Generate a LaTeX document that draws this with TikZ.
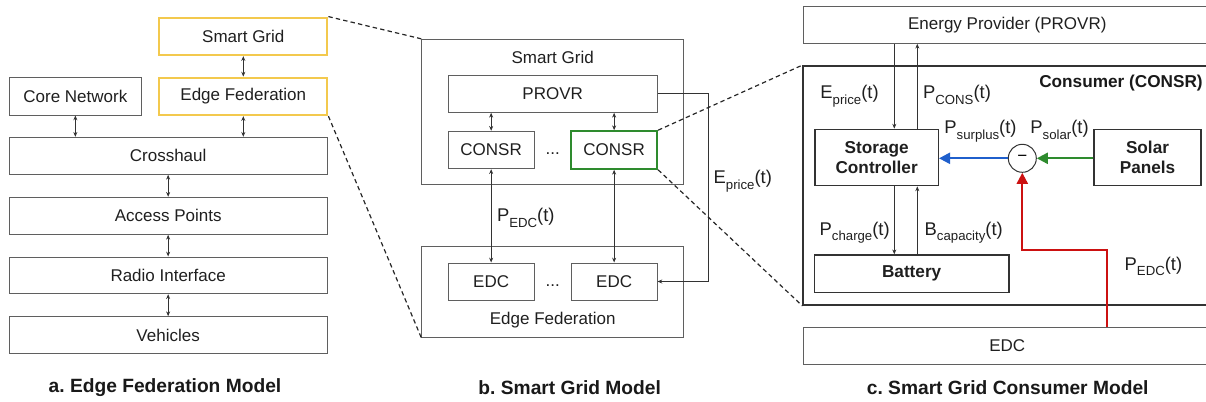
\documentclass[tikz,border=0pt]{standalone}
\usepackage{fontspec}
\setmainfont{Liberation Sans}
\frenchspacing
\usetikzlibrary{arrows.meta}
\definecolor{boxgray}{HTML}{5F5F5F}
\definecolor{ylw}{HTML}{F3C94E}
\definecolor{grn}{HTML}{2E8B2E}
\definecolor{blu}{HTML}{1F5FCC}
\definecolor{rd}{HTML}{CC1111}
\newcommand\sbs[1]{\raisebox{-0.6ex}{\fontsize{6.6}{7}\selectfont #1}}
% \rbox[style]{name}{x1}{y1}{x2}{y2}{text}
\newcommand\rbox[7][box]{\node[#1, minimum width={(#5-#3)*0.5pt}, minimum height={(#6-#4)*0.5pt}] (#2) at ({(#3+#5)/2},{(#4+#6)/2}) {#7};}
\tikzset{
  box/.style={draw=boxgray, line width=0.5pt, inner sep=0pt, font=\fontsize{8.5}{10}\selectfont, text=black!88},
  ybox/.style={box, draw=ylw, line width=1.1pt},
  gbox/.style={box, draw=grn, line width=1.1pt},
  bbox/.style={box, draw=black!80, line width=0.7pt, font=\bfseries\fontsize{8.6}{10}\selectfont, align=center},
  plain/.style={inner sep=0pt, font=\fontsize{8.5}{10}\selectfont, text=black!88},
  lab/.style={anchor=base west, inner sep=0pt, font=\fontsize{9.2}{10}\selectfont, text=black!88},
  ttl/.style={inner sep=0pt, font=\bfseries\fontsize{9.6}{11}\selectfont, text=black!90},
  sarr/.style={draw=black!80, line width=0.4pt, {Stealth[length=2.4pt,width=2pt]}-{Stealth[length=2.4pt,width=2pt]}},
  arr/.style={draw=black!80, line width=0.4pt, -{Stealth[length=2.4pt,width=2pt]}},
  dsh/.style={draw=black!85, line width=0.6pt, dash pattern=on 2.2pt off 1.6pt},
  flow/.style={line width=1.1pt, -{Triangle[length=5.5pt,width=5.5pt]}},
}
\begin{document}
\begin{tikzpicture}[x=0.5pt,y=-0.5pt]
\useasboundingbox (0,0) rectangle (1206,402);
\clip (0,0) rectangle (1206,402);
% ---------- a ----------
\rbox[ybox]{sg}{159.3}{17.7}{327.3}{55}{Smart Grid}
\rbox[ybox]{ef}{159.3}{77.7}{327.3}{115}{Edge Federation}
\rbox{cn}{9}{77.7}{141.7}{115}{Core Network}
\rbox{ch}{9}{137.3}{327.3}{174.3}{Crosshaul}
\rbox{ap}{9}{197.3}{327.3}{234.3}{Access Points}
\rbox{ri}{9}{257}{327.3}{293.7}{Radio Interface}
\rbox{ve}{9}{316.7}{327.3}{353.3}{Vehicles}
\draw[sarr] (sg.south) -- (ef.north);
\draw[sarr] (cn.south) -- (cn.south |- ch.north);
\draw[sarr] (ef.south) -- (ef.south |- ch.north);
\draw[sarr] (ch.south) -- (ap.north);
\draw[sarr] (ap.south) -- (ri.north);
\draw[sarr] (ri.south) -- (ve.north);
\node[ttl] (ta) at (165,388) {a. Edge Federation Model};
% ---------- b ----------
\rbox{sgb}{421.7}{39.3}{683.7}{184}{}
\node[plain] (sgbl) at (552.7,57) {Smart Grid};
\rbox{pv}{448.3}{75.3}{657}{112.3}{PROVR}
\rbox{c1}{448.3}{131.3}{534}{168.7}{CONSR}
\rbox[gbox]{c2}{571.3}{131.3}{657}{168.7}{CONSR}
\node[plain] (d1) at (552.7,154) {...};
\rbox{efb}{421.7}{246.7}{683.7}{337}{}
\node[plain] (efbl) at (552.7,320) {Edge Federation};
\rbox{e1}{448.3}{263}{534}{300}{EDC}
\rbox{e2}{571.3}{263}{657}{300}{EDC}
\node[plain] (d2) at (552.7,286) {...};
\draw[sarr] (c1.north |- pv.south) -- (c1.north);
\draw[sarr] (c2.north |- pv.south) -- (c2.north);
\draw[sarr] (c1.south) -- (e1.north);
\draw[sarr] (c2.south) -- (e2.north);
\coordinate (ex) at (708.3,0);
\draw[arr] (pv.east) -- (pv.east -| ex) |- (e2.east);
\node[lab] (lep) at (713.3,183.3) {E\sbs{price}(t)};
\node[lab] (lpe) at (496.7,221.7) {P\sbs{EDC}(t)};
\node[ttl] (tb) at (569.7,388) {b. Smart Grid Model};
% ---------- c ----------
\rbox{ep}{803.3}{6}{1211.3}{43.3}{Energy Provider (PROVR)}
\rbox[box, draw=black!80, line width=0.9pt]{cs}{803.3}{66}{1211.3}{305}{}
\node[inner sep=0pt, font=\bfseries\fontsize{8.6}{10}\selectfont, text=black!90] (csl) at (1121,83.3) {Consumer (CONSR)};
\rbox[bbox]{sc}{815}{129.3}{938.3}{185.7}{Storage\\Controller}
\rbox[bbox]{sp}{1094}{129.3}{1201}{185.7}{Solar\\Panels}
\rbox[bbox]{bat}{814.3}{255}{1009}{292.3}{Battery}
\rbox{edc}{803.3}{327.7}{1211.3}{364.3}{EDC}
\node[circle, draw=black!80, line width=0.5pt, minimum size=14pt, inner sep=0pt, font=\fontsize{8.5}{10}\selectfont] (cir) at (1022.3,158.3) {−};
\coordinate (xe) at (894.3,0);
\coordinate (xp) at (917.3,0);
\draw[arr] (ep.south -| xe) -- (sc.north -| xe);
\draw[arr] (sc.north -| xp) -- (ep.south -| xp);
\draw[arr] (sc.south -| xe) -- (bat.north -| xe);
\draw[arr] (bat.north -| xp) -- (sc.south -| xp);
\draw[flow, draw=blu] (cir.west) -- (cir.west -| sc.east);
\draw[flow, draw=grn] (sp.west |- cir.east) -- (cir.east);
\coordinate (rx) at (1107.3,250);
\draw[flow, draw=rd] (edc.north -| rx) -- (rx) -- (cir.south |- rx) -- (cir.south);
\node[lab] (l1) at (820,98.3) {E\sbs{price}(t)};
\node[lab] (l2) at (922.7,98.3) {P\sbs{CONS}(t)};
\node[lab] (l3) at (944,133.3) {P\sbs{surplus}(t)};
\node[lab] (l4) at (1030,133.3) {P\sbs{solar}(t)};
\node[lab] (l5) at (819.3,235) {P\sbs{charge}(t)};
\node[lab] (l6) at (924.3,235) {B\sbs{capacity}(t)};
\node[lab] (l7) at (1124.3,270) {P\sbs{EDC}(t)};
\node[ttl] (tc) at (1007.7,388) {c. Smart Grid Consumer Model};
% ---------- dashed zoom lines ----------
\draw[dsh] (sg.north east) -- (sgb.north west);
\draw[dsh] (ef.south east) -- (efb.south west);
\draw[dsh] (c2.north east) -- (cs.north west);
\draw[dsh] (c2.south east) -- (cs.south west);
\end{tikzpicture}
\end{document}
